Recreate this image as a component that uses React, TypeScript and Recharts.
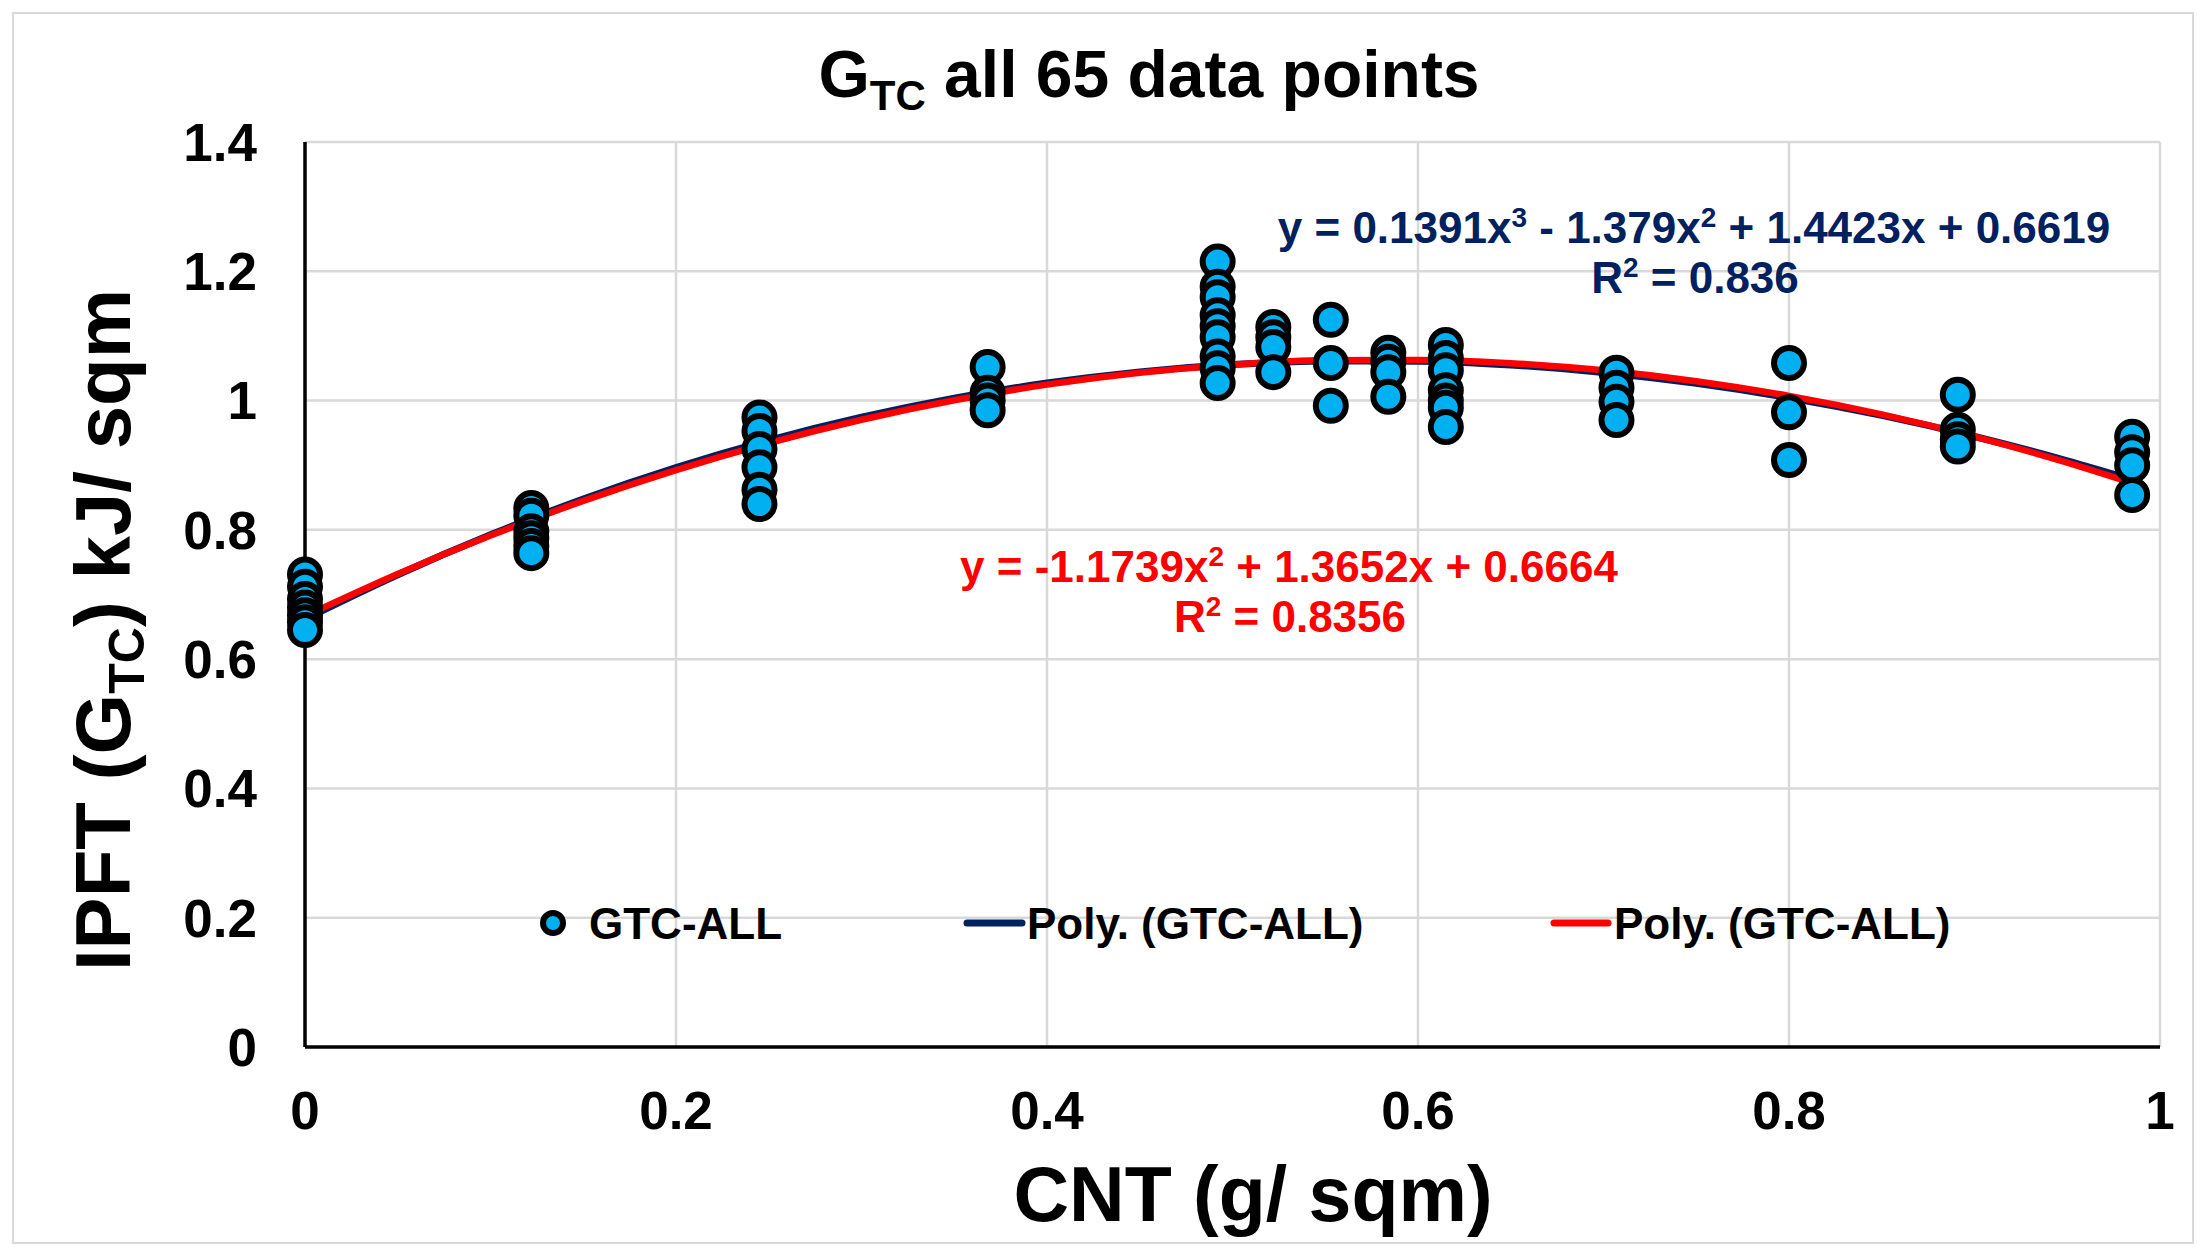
import { ComposedChart, Scatter, Line, XAxis, YAxis, CartesianGrid, Legend } from 'recharts';

const FONT = '"Liberation Sans", Arial, sans-serif';
const CYAN = '#00B0F0';
const NAVY = '#002060';
const RED = '#FF0000';

const X_TICKS = [0, 0.2, 0.4, 0.6, 0.8, 1];
const Y_TICKS = [0, 0.2, 0.4, 0.6, 0.8, 1, 1.2, 1.4];

// CNT loading levels and the GTC readings measured at each one (65 points)
const cntLevels = [0, 0.122, 0.245, 0.368, 0.492, 0.522, 0.553, 0.584, 0.615, 0.707, 0.8, 0.891, 0.985];
const gtcByLevel = [
  [0.731, 0.712, 0.693, 0.68, 0.668, 0.657, 0.645],
  [0.834, 0.822, 0.798, 0.787, 0.775, 0.764],
  [0.974, 0.953, 0.925, 0.897, 0.862, 0.84],
  [1.052, 1.012, 1.0, 0.985],
  [1.215, 1.176, 1.16, 1.132, 1.115, 1.098, 1.068, 1.05, 1.027],
  [1.114, 1.098, 1.083, 1.044],
  [1.125, 1.058, 0.992],
  [1.074, 1.06, 1.044, 1.006],
  [1.086, 1.066, 1.047, 1.016, 1.0, 0.989, 0.959],
  [1.043, 1.02, 0.998, 0.97],
  [1.058, 0.982, 0.908],
  [1.009, 0.955, 0.94, 0.929],
  [0.944, 0.92, 0.9, 0.854],
];

// trendlines
const trendX = [0, 0.05, 0.1, 0.15, 0.2, 0.25, 0.3, 0.35, 0.4, 0.45, 0.5, 0.55, 0.6, 0.65, 0.7, 0.75, 0.8, 0.85, 0.9, 0.95, 0.985];
const cubicFit = [0.662, 0.7306, 0.7924, 0.8477, 0.8963, 0.9385, 0.9742, 1.0037, 1.0271, 1.0444, 1.0557, 1.0612, 1.0609, 1.055, 1.0435, 1.0266, 1.0044, 0.977, 0.9444, 0.9068, 0.8776];
const quadFit = [0.6664, 0.7317, 0.7912, 0.8448, 0.8925, 0.9343, 0.9703, 1.0004, 1.0247, 1.043, 1.0555, 1.0622, 1.0629, 1.0578, 1.0468, 1.03, 1.0073, 0.9787, 0.9442, 0.9039, 0.8722];

const points = cntLevels.flatMap((x, i) => gtcByLevel[i].map((y) => ({ x, y })));
const cubicData = trendX.map((x, i) => ({ x, y: cubicFit[i] }));
const quadData = trendX.map((x, i) => ({ x, y: quadFit[i] }));

const W = 2212;
const H = 1255;

const tickStyle = { fontSize: 53, fontWeight: 700, fill: '#000', fontFamily: FONT };

const Dot = (props: any) => (
  <circle cx={props.cx} cy={props.cy} r={15} fill={CYAN} stroke="#000" strokeWidth={6} />
);

const renderLegend = () => (
  <div style={{ position: 'relative', height: 0 }}>
    <svg width={W} height={H} style={{ position: 'absolute', left: 0, top: 0, overflow: 'visible' }}>
      <g fontFamily={FONT} fontWeight={700} fontSize={44} fill="#000">
        <circle cx={553} cy={923} r={10} fill={CYAN} stroke="#000" strokeWidth={6} />
        <text x={589} y={939}>GTC-ALL</text>
        <line x1={967} x2={1022} y1={923} y2={923} stroke={NAVY} strokeWidth={7} strokeLinecap="round" />
        <text x={1027} y={939}>Poly. (GTC-ALL)</text>
        <line x1={1554} x2={1608} y1={923} y2={923} stroke={RED} strokeWidth={7} strokeLinecap="round" />
        <text x={1614} y={939}>Poly. (GTC-ALL)</text>
      </g>
    </svg>
  </div>
);

export default function App() {
  return (
    <div style={{ position: 'relative', width: W, height: H, background: '#fff' }}>
      <style>{'body{margin:0}'}</style>
      <div
        style={{
          position: 'absolute',
          left: 12,
          top: 12,
          width: 2182,
          height: 1232,
          border: '2px solid #d9d9d9',
          boxSizing: 'border-box',
        }}
      />
      <ComposedChart width={W} height={H} margin={{ top: 142, right: 52, bottom: 108, left: 205 }}>
        <CartesianGrid stroke="#d9d9d9" strokeWidth={2.5} />
        <XAxis
          type="number"
          dataKey="x"
          domain={[0, 1]}
          ticks={X_TICKS}
          height={100}
          axisLine={{ stroke: '#000', strokeWidth: 3.5 }}
          tickLine={false}
          tickSize={0}
          tickMargin={44}
          tick={tickStyle}
        />
        <YAxis
          type="number"
          dataKey="y"
          domain={[0, 1.4]}
          ticks={Y_TICKS}
          width={100}
          axisLine={{ stroke: '#000', strokeWidth: 3.5 }}
          tickLine={false}
          tickSize={0}
          tickMargin={48}
          tick={tickStyle}
        />
        <Legend verticalAlign="top" content={renderLegend} wrapperStyle={{ left: 0, top: 0, bottom: 'auto', width: W, height: 0 }} />
        <Scatter name="GTC-ALL" data={points} shape={Dot} isAnimationActive={false} />
        <Line data={cubicData} dataKey="y" type="monotone" stroke={NAVY} strokeWidth={7} dot={false} isAnimationActive={false} />
        <Line data={quadData} dataKey="y" type="monotone" stroke={RED} strokeWidth={6.5} dot={false} isAnimationActive={false} />
      </ComposedChart>
      <svg width={W} height={H} style={{ position: 'absolute', left: 0, top: 0, pointerEvents: 'none' }}>
        <g fontFamily={FONT} fontWeight={700}>
          <text x={1149} y={97} fontSize={66} textAnchor="middle" fill="#000">
            G<tspan fontSize={42} dy={13}>TC</tspan>
            <tspan dy={-13}> all 65 data points</tspan>
          </text>
          <text x={1253} y={1221} fontSize={77} textAnchor="middle" fill="#000">CNT (g/ sqm)</text>
          <text transform="translate(130,630) rotate(-90)" fontSize={78} textAnchor="middle" fill="#000">
            IPFT (G<tspan fontSize={50} dy={14}>TC</tspan>
            <tspan dy={-14}>) kJ/ sqm</tspan>
          </text>
          <g fontSize={44} fill={NAVY} textAnchor="middle">
            <text x={1694} y={243}>
              y = 0.1391x<tspan fontSize={28} dy={-16}>3</tspan>
              <tspan dy={16}> - 1.379x</tspan>
              <tspan fontSize={28} dy={-16}>2</tspan>
              <tspan dy={16}> + 1.4423x + 0.6619</tspan>
            </text>
            <text x={1695} y={293}>
              R<tspan fontSize={28} dy={-16}>2</tspan>
              <tspan dy={16}> = 0.836</tspan>
            </text>
          </g>
          <g fontSize={44} fill={RED} textAnchor="middle">
            <text x={1289} y={582}>
              y = -1.1739x<tspan fontSize={28} dy={-16}>2</tspan>
              <tspan dy={16}> + 1.3652x + 0.6664</tspan>
            </text>
            <text x={1290} y={632}>
              R<tspan fontSize={28} dy={-16}>2</tspan>
              <tspan dy={16}> = 0.8356</tspan>
            </text>
          </g>
        </g>
      </svg>
    </div>
  );
}
